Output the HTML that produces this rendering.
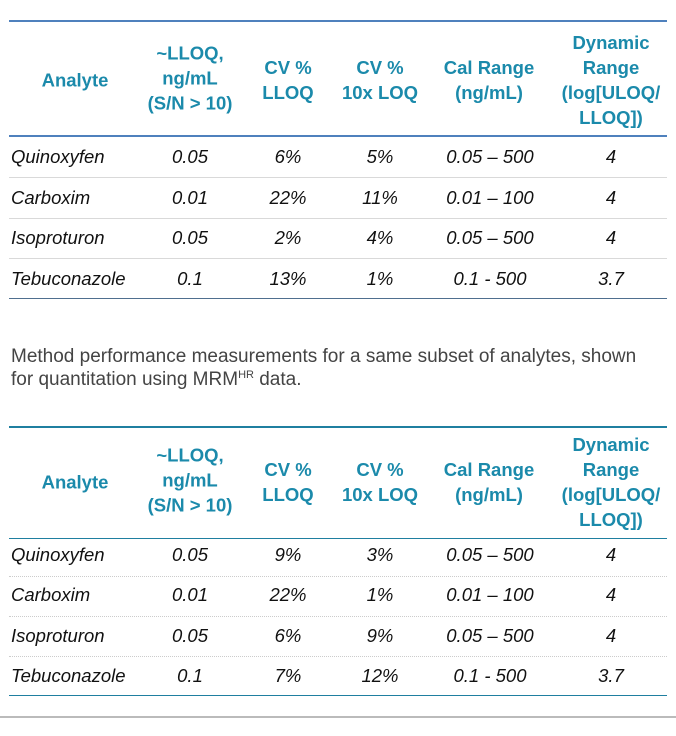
<!DOCTYPE html>
<html><head><style>
body{margin:0;width:676px;height:736px;background:#fff;font-family:"Liberation Sans",Arial,sans-serif;position:relative;overflow:hidden}
.a{position:absolute}
.h{position:absolute;color:#1b8aab;font-weight:bold;font-size:18.5px;line-height:25px;text-align:center;transform:translate(-50%,-50%);white-space:nowrap}
.d{position:absolute;font-style:italic;font-size:18.5px;color:#111;transform:translate(-50%,-50%);white-space:nowrap}
.l{position:absolute;font-style:italic;font-size:18.5px;color:#111;left:11px;transform:translateY(-50%)}
.ln{position:absolute;left:9px;width:658px}
</style></head><body>
<div class="ln" style="top:20px;height:2px;background:#4f81bd"></div>
<div class="ln" style="top:135px;height:2px;background:#4f81bd"></div>
<div class="ln" style="top:177px;height:1px;background:#d9d9d9"></div>
<div class="ln" style="top:218px;height:1px;background:#d9d9d9"></div>
<div class="ln" style="top:258px;height:1px;background:#d9d9d9"></div>
<div class="ln" style="top:298px;height:1px;background:#4f6f8f"></div>
<div class="h" style="left:75px;top:80px">Analyte</div>
<div class="h" style="left:190px;top:78px">~LLOQ,<br>ng/mL<br>(S/N &gt; 10)</div>
<div class="h" style="left:288px;top:80px">CV %<br>LLOQ</div>
<div class="h" style="left:380px;top:80px">CV %<br>10x LOQ</div>
<div class="h" style="left:489px;top:80px">Cal Range<br>(ng/mL)</div>
<div class="h" style="left:611px;top:80px">Dynamic<br>Range<br>(log[ULOQ/<br>LLOQ])</div>
<div class="l" style="top:157px">Quinoxyfen</div><div class="d" style="left:190px;top:157px">0.05</div><div class="d" style="left:288px;top:157px">6%</div><div class="d" style="left:380px;top:157px">5%</div><div class="d" style="left:490px;top:157px">0.05 – 500</div><div class="d" style="left:611px;top:157px">4</div>
<div class="l" style="top:198px">Carboxim</div><div class="d" style="left:190px;top:198px">0.01</div><div class="d" style="left:288px;top:198px">22%</div><div class="d" style="left:380px;top:198px">11%</div><div class="d" style="left:490px;top:198px">0.01 – 100</div><div class="d" style="left:611px;top:198px">4</div>
<div class="l" style="top:238px">Isoproturon</div><div class="d" style="left:190px;top:238px">0.05</div><div class="d" style="left:288px;top:238px">2%</div><div class="d" style="left:380px;top:238px">4%</div><div class="d" style="left:490px;top:238px">0.05 – 500</div><div class="d" style="left:611px;top:238px">4</div>
<div class="l" style="top:279px">Tebuconazole</div><div class="d" style="left:190px;top:279px">0.1</div><div class="d" style="left:288px;top:279px">13%</div><div class="d" style="left:380px;top:279px">1%</div><div class="d" style="left:490px;top:279px">0.1 - 500</div><div class="d" style="left:611px;top:279px">3.7</div>
<div class="a" style="left:11px;top:345px;font-size:19px;line-height:23px;color:#444;white-space:nowrap">Method performance measurements for a same subset of analytes, shown<br>for quantitation using MRM<sup style="font-size:11px;vertical-align:7px;line-height:0">HR</sup> data.</div>
<div class="ln" style="top:426px;height:2px;background:#1f7fa0"></div>
<div class="ln" style="top:538px;height:1px;background:#1f7fa0"></div>
<div class="ln" style="top:576px;height:1px;border-top:1px dotted #ccc"></div>
<div class="ln" style="top:616px;height:1px;border-top:1px dotted #ccc"></div>
<div class="ln" style="top:656px;height:1px;border-top:1px dotted #ccc"></div>
<div class="ln" style="top:695px;height:1px;background:#1f7fa0"></div>
<div class="h" style="left:75px;top:482px">Analyte</div>
<div class="h" style="left:190px;top:480px">~LLOQ,<br>ng/mL<br>(S/N &gt; 10)</div>
<div class="h" style="left:288px;top:482px">CV %<br>LLOQ</div>
<div class="h" style="left:380px;top:482px">CV %<br>10x LOQ</div>
<div class="h" style="left:489px;top:482px">Cal Range<br>(ng/mL)</div>
<div class="h" style="left:611px;top:482px">Dynamic<br>Range<br>(log[ULOQ/<br>LLOQ])</div>
<div class="l" style="top:555px">Quinoxyfen</div><div class="d" style="left:190px;top:555px">0.05</div><div class="d" style="left:288px;top:555px">9%</div><div class="d" style="left:380px;top:555px">3%</div><div class="d" style="left:490px;top:555px">0.05 – 500</div><div class="d" style="left:611px;top:555px">4</div>
<div class="l" style="top:595px">Carboxim</div><div class="d" style="left:190px;top:595px">0.01</div><div class="d" style="left:288px;top:595px">22%</div><div class="d" style="left:380px;top:595px">1%</div><div class="d" style="left:490px;top:595px">0.01 – 100</div><div class="d" style="left:611px;top:595px">4</div>
<div class="l" style="top:636px">Isoproturon</div><div class="d" style="left:190px;top:636px">0.05</div><div class="d" style="left:288px;top:636px">6%</div><div class="d" style="left:380px;top:636px">9%</div><div class="d" style="left:490px;top:636px">0.05 – 500</div><div class="d" style="left:611px;top:636px">4</div>
<div class="l" style="top:676px">Tebuconazole</div><div class="d" style="left:190px;top:676px">0.1</div><div class="d" style="left:288px;top:676px">7%</div><div class="d" style="left:380px;top:676px">12%</div><div class="d" style="left:490px;top:676px">0.1 - 500</div><div class="d" style="left:611px;top:676px">3.7</div>
<div class="a" style="left:0;top:716px;width:676px;height:2px;background:#bbb"></div>
</body></html>
